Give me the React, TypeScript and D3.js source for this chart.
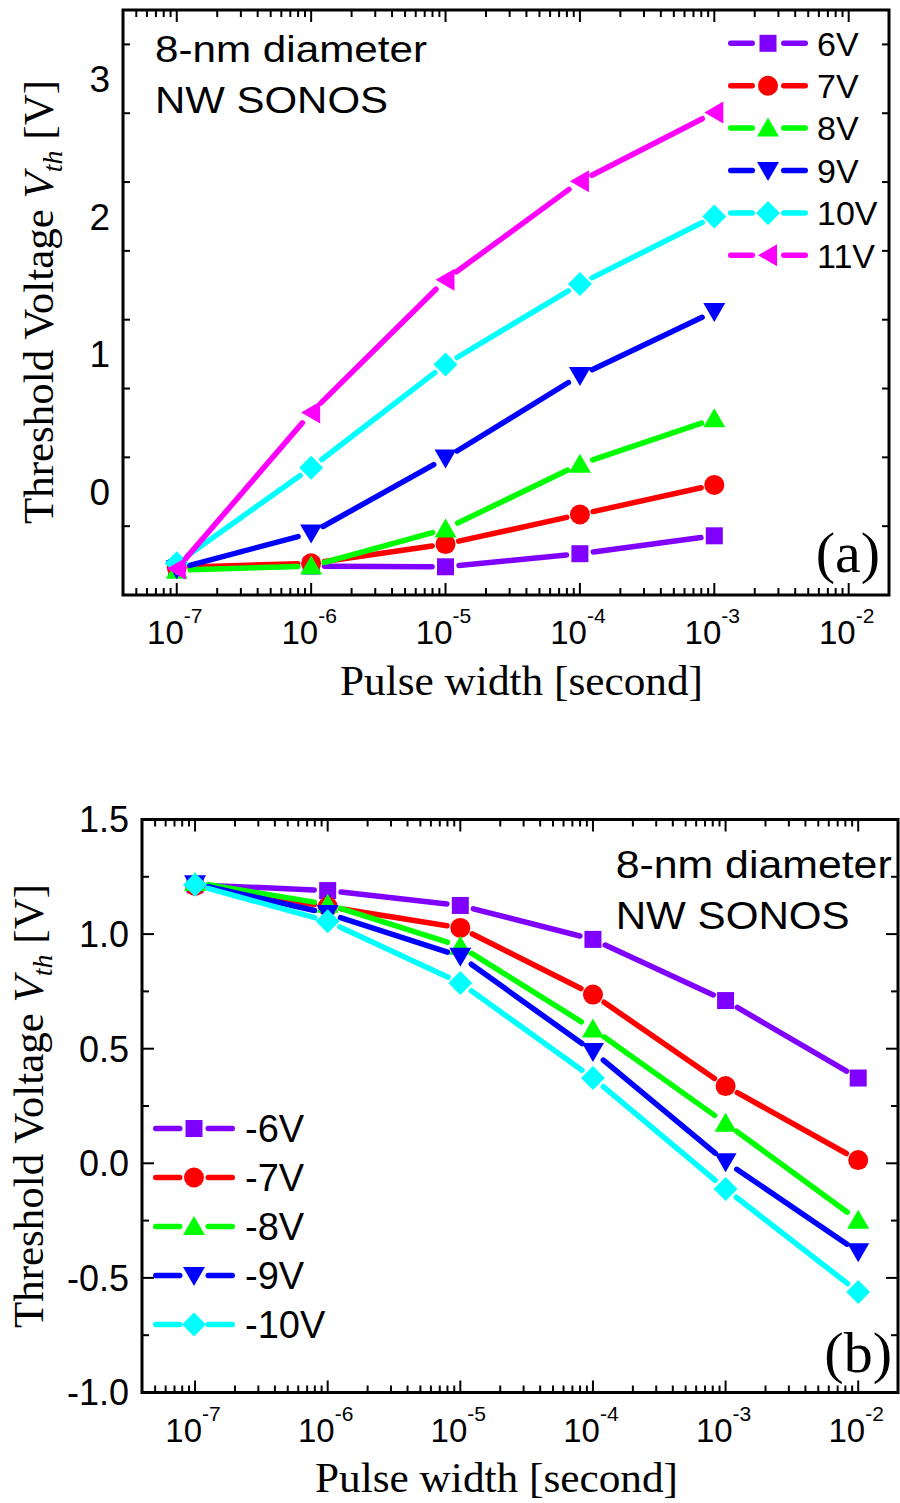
import React from 'react';
import * as d3 from 'd3';

// ---------- DATA ----------
const pulseWidthsA = [1e-7, 1e-6, 1e-5, 1e-4, 1e-3];
const seriesLabelsA = ['6V', '7V', '8V', '9V', '10V', '11V'];
const vth6V = [-0.55, -0.54, -0.545, -0.45, -0.32];
const vth7V = [-0.55, -0.52, -0.38, -0.165, 0.05];
const vth8V = [-0.57, -0.54, -0.27, 0.2, 0.53];
const vth9V = [-0.56, -0.3, 0.245, 0.845, 1.31];
const vth10V = [-0.52, 0.175, 0.925, 1.51, 2.0];
const vth11V = [-0.56, 0.575, 1.54, 2.255, 2.755];

const pulseWidthsB = [1e-7, 1e-6, 1e-5, 1e-4, 1e-3, 1e-2];
const seriesLabelsB = ['-6V', '-7V', '-8V', '-9V', '-10V'];
const vthM6V = [1.215, 1.19, 1.125, 0.977, 0.71, 0.372];
const vthM7V = [1.21, 1.12, 1.027, 0.736, 0.337, 0.014];
const vthM8V = [1.225, 1.13, 0.947, 0.586, 0.175, -0.248];
const vthM9V = [1.22, 1.09, 0.903, 0.488, 0.007, -0.386];
const vthM10V = [1.215, 1.056, 0.787, 0.372, -0.112, -0.561];

const yTicksA = [0, 1, 2, 3];
const yTickLabelsA = ['0', '1', '2', '3'];
const yTicksB = [-1.0, -0.5, 0.0, 0.5, 1.0, 1.5];
const yTickLabelsB = ['-1.0', '-0.5', '0.0', '0.5', '1.0', '1.5'];
const xTickExponents = [-7, -6, -5, -4, -3, -2];

const colors = ['#8000FF', '#FF0000', '#00FF00', '#0000FF', '#00FFFF', '#FF00FF'];
const shapes = ['square', 'circle', 'up', 'down', 'diamond', 'left'];

const SANS = "'Liberation Sans', Arimo, Arial, Helvetica, sans-serif";
const SERIF = "'Liberation Serif', Tinos, 'Times New Roman', serif";

// ---------- helpers ----------
function Marker({ shape, x, y, color }: { shape: string; x: number; y: number; color: string }) {
  switch (shape) {
    case 'square':
      return <rect x={x - 8.5} y={y - 8.5} width={17} height={17} fill={color} />;
    case 'circle':
      return <circle cx={x} cy={y} r={10} fill={color} />;
    case 'up':
      return <path d={`M${x},${y - 10.5}L${x + 11},${y + 8.5}L${x - 11},${y + 8.5}Z`} fill={color} />;
    case 'down':
      return <path d={`M${x},${y + 10.5}L${x + 11},${y - 8.5}L${x - 11},${y - 8.5}Z`} fill={color} />;
    case 'left':
      return <path d={`M${x - 10},${y}L${x + 9},${y - 11}L${x + 9},${y + 11}Z`} fill={color} />;
    case 'diamond':
      return <path d={`M${x},${y - 12}L${x + 12},${y}L${x},${y + 12}L${x - 12},${y}Z`} fill={color} />;
    default:
      return null;
  }
}

type PanelProps = {
  left: number; right: number; top: number; bottom: number;
  yDomain: [number, number];
  yTicks: number[]; yTickLabels: string[]; yMinorStep: number; yFont: number;
  xs: number[]; series: number[][]; labels: string[];
  legend: { x1: number; x2: number; xm: number; xt: number; y0: number; dy: number; gap: number; font: number };
  note: { x: number; y1: number; y2: number; font: number; len1: number; len2: number };
  tag: { text: string; x: number; y: number };
  xTitle: { x: number; y: number; len: number };
  yTitle: { x: number; y: number; len: number };
};

function Panel(p: PanelProps) {
  const x = d3.scaleLog().domain([10 ** -7.4, 10 ** -1.7]).range([p.left, p.right]);
  const y = d3.scaleLinear().domain(p.yDomain).range([p.bottom, p.top]);

  const xTicks: { px: number; major: boolean }[] = [];
  for (let d = -8; d <= -2; d++) {
    for (let k = 1; k <= 9; k++) {
      const v = k * 10 ** d;
      const px = x(v);
      if (px >= p.left + 1 && px <= p.right - 1) xTicks.push({ px, major: k === 1 });
    }
  }
  const yAll: { py: number; major: boolean }[] = [];
  const [y0, y1] = p.yDomain;
  for (let v = y0; v <= y1 + 1e-9; v += p.yMinorStep) {
    const isMajor = p.yTicks.some((t) => Math.abs(t - v) < 1e-6);
    const py = y(v);
    if (py > p.top + 1 && py < p.bottom - 1) yAll.push({ py, major: isMajor });
  }

  const trim = 13.5;
  const majLen = 12, minLen = 7;

  return (
    <g>
      {p.series.map((vals, si) => {
        const pts = vals.map((v, i) => [x(p.xs[i]), y(v)]);
        const segs = [];
        for (let i = 0; i < pts.length - 1; i++) {
          const [ax, ay] = pts[i];
          const [bx, by] = pts[i + 1];
          const dx = bx - ax, dy = by - ay;
          const len = Math.hypot(dx, dy);
          if (len > 2 * trim + 1) {
            const ux = dx / len, uy = dy / len;
            segs.push(
              <line key={i} x1={ax + ux * trim} y1={ay + uy * trim} x2={bx - ux * trim} y2={by - uy * trim}
                stroke={colors[si]} strokeWidth={5.5} strokeLinecap="round" />
            );
          }
        }
        return (
          <g key={si}>
            {segs}
            {pts.map(([px, py], i) => (
              <Marker key={i} shape={shapes[si]} x={px} y={py} color={colors[si]} />
            ))}
          </g>
        );
      })}

      <rect x={p.left} y={p.top} width={p.right - p.left} height={p.bottom - p.top}
        fill="none" stroke="#000" strokeWidth={3} />

      {xTicks.map((t, i) => (
        <g key={i} stroke="#000" strokeWidth={2}>
          <line x1={t.px} x2={t.px} y1={p.bottom} y2={p.bottom - (t.major ? majLen : minLen)} />
          <line x1={t.px} x2={t.px} y1={p.top} y2={p.top + (t.major ? majLen : minLen)} />
        </g>
      ))}
      {yAll.map((t, i) => (
        <g key={i} stroke="#000" strokeWidth={2}>
          <line x1={p.left} x2={p.left + (t.major ? majLen : minLen)} y1={t.py} y2={t.py} />
          <line x1={p.right} x2={p.right - (t.major ? majLen : minLen)} y1={t.py} y2={t.py} />
        </g>
      ))}

      {xTickExponents.map((e) => (
        <text key={e} x={x(10 ** e) - 2} y={p.bottom + 49} textAnchor="middle"
          fontFamily={SANS} fontSize={33} fill="#000">
          10<tspan fontSize={21} dy={-21}>{String(e)}</tspan>
        </text>
      ))}
      {p.yTicks.map((v, i) => (
        <text key={i} x={p.left - 13} y={y(v) + p.yFont * 0.36} textAnchor="end"
          fontFamily={SANS} fontSize={p.yFont} fill="#000">
          {p.yTickLabels[i]}
        </text>
      ))}

      <text x={p.xTitle.x} y={p.xTitle.y} textAnchor="middle" fontFamily={SERIF}
        fontSize={43} fill="#000" textLength={p.xTitle.len} lengthAdjust="spacingAndGlyphs">
        Pulse width [second]
      </text>
      <text transform={`translate(${p.yTitle.x},${p.yTitle.y}) rotate(-90)`} textAnchor="middle"
        fontFamily={SERIF} fontSize={43} fill="#000">
        Threshold Voltage <tspan fontStyle="italic">V</tspan>
        <tspan fontStyle="italic" fontSize={28} dy={9}>th</tspan>
        <tspan dy={-9}> [V]</tspan>
      </text>

      {p.labels.map((lab, i) => {
        const ly = p.legend.y0 + i * p.legend.dy;
        const L = p.legend;
        return (
          <g key={lab}>
            <line x1={L.x1 + 2.75} x2={L.xm - L.gap - 2.75} y1={ly} y2={ly} stroke={colors[i]} strokeWidth={5.5} strokeLinecap="round" />
            <line x1={L.xm + L.gap + 2.75} x2={L.x2 - 2.75} y1={ly} y2={ly} stroke={colors[i]} strokeWidth={5.5} strokeLinecap="round" />
            <Marker shape={shapes[i]} x={L.xm} y={ly} color={colors[i]} />
            <text x={L.xt} y={ly + L.font * 0.36} fontFamily={SANS}
              fontSize={L.font} fill="#000">{lab}</text>
          </g>
        );
      })}

      <text x={p.note.x} y={p.note.y1} fontFamily={SANS} fontSize={p.note.font}
        fill="#000" textLength={p.note.len1} lengthAdjust="spacingAndGlyphs">8-nm diameter</text>
      <text x={p.note.x} y={p.note.y2} fontFamily={SANS} fontSize={p.note.font}
        fill="#000" textLength={p.note.len2} lengthAdjust="spacingAndGlyphs">NW SONOS</text>

      <text x={p.tag.x} y={p.tag.y} textAnchor="end" fontFamily={SERIF}
        fontSize={58} fill="#000">{p.tag.text}</text>
    </g>
  );
}

export default function App() {
  const seriesA = [vth6V, vth7V, vth8V, vth9V, vth10V, vth11V];
  const seriesB = [vthM6V, vthM7V, vthM8V, vthM9V, vthM10V];
  return (
    <svg width={900} height={1503} viewBox="0 0 900 1503"
      style={{ position: 'absolute', left: 0, top: 0, background: '#fff' }}>
      <rect x={0} y={0} width={900} height={1503} fill="#fff" />
      <Panel
        left={123} right={889} top={10} bottom={595}
        yDomain={[-0.75, 3.5]} yTicks={yTicksA} yTickLabels={yTickLabelsA} yMinorStep={0.5} yFont={37}
        xs={pulseWidthsA} series={seriesA} labels={seriesLabelsA}
        legend={{ x1: 728, x2: 808, xm: 768, xt: 817, y0: 43.3, dy: 42.4, gap: 13, font: 34 }}
        note={{ x: 155, y1: 61.7, y2: 113.3, font: 37, len1: 272, len2: 233 }}
        tag={{ text: '(a)', x: 880, y: 572 }}
        xTitle={{ x: 521.5, y: 695, len: 363 }}
        yTitle={{ x: 53, y: 302, len: 455 }}
      />
      <Panel
        left={142} right={898} top={819.5} bottom={1392.5}
        yDomain={[-1.0, 1.5]} yTicks={yTicksB} yTickLabels={yTickLabelsB} yMinorStep={0.25} yFont={36}
        xs={pulseWidthsB} series={seriesB} labels={seriesLabelsB}
        legend={{ x1: 153, x2: 235, xm: 194, xt: 245, y0: 1128.5, dy: 49, gap: 11.5, font: 38 }}
        note={{ x: 615.7, y1: 878.3, y2: 929.3, font: 38, len1: 276, len2: 234 }}
        tag={{ text: '(b)', x: 892, y: 1372 }}
        xTitle={{ x: 496.5, y: 1492, len: 363 }}
        yTitle={{ x: 43, y: 1106, len: 459 }}
      />
    </svg>
  );
}
